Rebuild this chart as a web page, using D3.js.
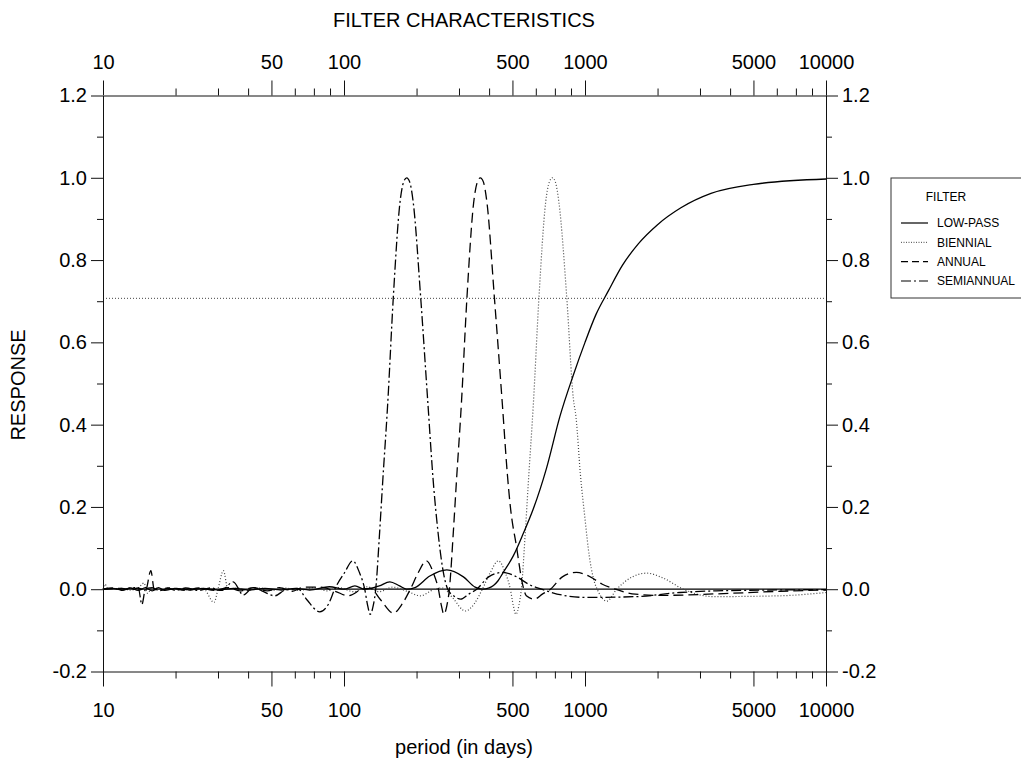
<!DOCTYPE html>
<html><head><meta charset="utf-8">
<script src="https://cdn.jsdelivr.net/npm/d3@7"></script>
<style>
html,body{margin:0;padding:0;background:#fff;}
svg{display:block;font-family:"Liberation Sans",Arial,Helvetica,sans-serif;}
</style></head>
<body>
<svg id="chart" width="1021" height="766"></svg>
<script>
// ---- data (period in days, response) ----
const xMajorTicks = [10, 50, 100, 500, 1000, 5000, 10000];
const xMinorTicks = [20, 30, 40, 62.5, 75, 87.5, 200, 300, 400, 625, 750, 875, 2000, 3000, 4000, 6250, 7500, 8750];
const yMajorTicks = [-0.2, 0.0, 0.2, 0.4, 0.6, 0.8, 1.0, 1.2];
const yMinorTicks = [-0.1, 0.1, 0.3, 0.5, 0.7, 0.9, 1.1];
const halfPower = 0.707;
const seriesNames = ["LOW-PASS", "BIENNIAL", "ANNUAL", "SEMIANNUAL"];

const lowPass = [
 [10,0],[11,0.002],[12,-0.002],[13,0.003],[14,-0.003],[15,0.004],[16,-0.004],[17,0.004],[18,-0.003],[20,0.002],
 [23,-0.002],[26,0.002],[30,-0.002],[35,0.002],[40,-0.002],[47,0.002],[55,-0.002],[63,0.002],[72,-0.002],[87,0.006],
 [100,0],[111,0.008],[122,0],[140,0.008],[155,0.018],[170,0.008],[182,0],[197,0.004],[227,0.032],[267,0.047],
 [313,0.03],[350,0.005],[375,0],[400,0.003],[417,0.009],[435,0.02],[458,0.041],[504,0.081],[555,0.136],[611,0.196],
 [693,0.295],[787,0.42],[894,0.52],[1000,0.600],[1111,0.668],[1250,0.725],[1429,0.787],[1667,0.840],[2000,0.886],
 [2500,0.927],[3333,0.962],[5000,0.984],[10000,0.997]
];

const biennial = [
 [10,0],[10.2,0.012],[10.5,0],[12,0.002],[13,-0.002],[14,0.003],[14.8,0.015],[15.3,-0.01],[16,0.004],[18,-0.002],
 [20,0.002],[23,-0.002],[26,0.002],[28.9,-0.032],[30,0],[31.6,0.045],[33,0],[36,0.003],[40,-0.003],[45,0.003],
 [50,-0.003],[57,0.003],[65,-0.003],[75,0.004],[85,-0.004],[95,0.004],[110,-0.006],[125,0.006],[140,-0.006],
 [158.8,0.005],[183,-0.005],[207.4,-0.016],[237.2,0],[256,0.003],[281.5,-0.02],[318.8,-0.053],[347.4,-0.035],
 [375,0],[404.1,0.04],[437,0.069],[467,0.04],[490.1,0],[504.3,-0.04],[516.6,-0.061],[531.5,-0.04],[544.4,0],
 [565.5,0.14],[582,0.26],[610.5,0.45],[644.2,0.71],[686.6,0.94],[711.3,0.99],[732,1.0],[753.2,0.99],[779.6,0.94],
 [839.9,0.71],[894.5,0.463],[918,0.418],[956.7,0.28],[1000.6,0.17],[1042,0.08],[1083,0.027],[1136,-0.006],
 [1231,-0.029],[1354,0],[1572,0.03],[1804,0.039],[2094,0.028],[2560,0],[3404,-0.018],[6442,-0.016],[10000,-0.008]
];

const annual = [
 [10,0],[12,0.002],[13,-0.002],[14,0.003],[15,-0.004],[15.8,0.045],[16.3,0],[17,-0.004],[19,0.003],[22,-0.003],
 [25,0.003],[29,-0.003],[33,0.004],[37,-0.004],[42,0.004],[48,-0.004],[54,0.004],[61,-0.005],[68,0.005],
 [79.9,0.005],[92,-0.005],[104.3,-0.016],[119.2,0],[128.7,0.002],[141.5,-0.025],[160.3,-0.058],[174.7,-0.035],
 [188.5,0],[203.2,0.04],[219.7,0.069],[234.8,0.04],[246.4,0],[253.6,-0.04],[259.7,-0.061],[267.2,-0.04],[273.7,0],
 [284.3,0.14],[292.6,0.26],[306.9,0.45],[323.8,0.71],[345.2,0.94],[357.6,0.99],[368,1.0],[378.7,0.99],[391.9,0.94],
 [420.6,0.71],[454,0.45],[476.2,0.28],[490.2,0.2],[519.2,0.105],[552.7,0.008],[571,-0.016],[616.4,-0.024],
 [665.3,-0.012],[718.3,0],[805.6,0.03],[920.7,0.041],[1052,0.03],[1180,0.012],[1337,0],[1618,-0.012],
 [2053,-0.015],[3997,-0.01],[6442,-0.005],[10000,-0.002]
];

const semiannual = [
 [10,0],[11,0.003],[12,-0.003],[13,0.003],[14,0.004],[14.5,-0.037],[15,0],[16,0.004],[17,-0.003],[18.5,0.003],
 [20,-0.003],[22,0.003],[25,-0.003],[28,0.003],[31,-0.003],[34.7,0.018],[38.2,-0.014],[42,0.004],[45.6,-0.004],
 [51.6,-0.016],[57,-0.002],[61,0],[64,0.002],[70,-0.025],[79.3,-0.055],[86.4,-0.035],[91.5,0],[100.5,0.04],
 [108.7,0.069],[116,0.04],[121.9,0],[125.4,-0.04],[128.4,-0.061],[132.2,-0.04],[135.4,0],[140.6,0.14],[144.7,0.26],
 [151.8,0.45],[160.2,0.71],[170.7,0.94],[176.8,0.99],[182,1.0],[187.3,0.99],[193.8,0.94],[208,0.71],[222.4,0.46],
 [235.5,0.25],[242.4,0.17],[256.8,0.05],[269.4,0],[288,-0.018],[304.9,-0.024],[329,-0.012],[355.3,0],[398.4,0.03],
 [455.4,0.041],[520.5,0.03],[583.8,0.012],[661,0],[800,-0.014],[1015,-0.02],[1638,-0.018],[2477,-0.008],
 [3500,-0.004],[10000,-0.001]
];

// ---- layout ----
const svg = d3.select("#chart");
const x = d3.scaleLog().domain([10, 10000]).range([103, 826]);
const y = d3.scaleLinear().domain([-0.2, 1.2]).range([671.5, 95.5]);
const FONT = 20;
const axisColor = "#111";

// reference lines
const line = d3.line().x(d => x(d[0])).y(d => y(d[1])).curve(d3.curveMonotoneX);
const straight = d3.line().x(d => x(d[0])).y(d => y(d[1]));
svg.append("path").datum([[10,0],[10000,0]]).attr("d", straight)
  .attr("stroke", "#000").attr("stroke-width", 1.2).attr("fill", "none");
svg.append("path").datum([[10,halfPower],[10000,halfPower]]).attr("d", straight)
  .attr("stroke", "#444").attr("stroke-width", 1).attr("stroke-dasharray", "1,2").attr("fill", "none");

const styles = {
  "LOW-PASS":   {data: lowPass,    dash: null,        color: "#000", w: 1.3},
  "BIENNIAL":   {data: biennial,   dash: "1,2",       color: "#444", w: 1.2},
  "ANNUAL":     {data: annual,     dash: "10,5",      color: "#000", w: 1.3},
  "SEMIANNUAL": {data: semiannual, dash: "10,3,2,3",  color: "#000", w: 1.3}
};

["BIENNIAL","SEMIANNUAL","ANNUAL","LOW-PASS"].forEach(name => {
  const s = styles[name];
  const p = svg.append("path").datum(s.data).attr("d", line)
    .attr("fill", "none").attr("stroke", s.color).attr("stroke-width", s.w);
  if (s.dash) p.attr("stroke-dasharray", s.dash);
});

// ---- axes ----
function styleAxis(g, showDomain) {
  g.selectAll("line").attr("stroke", axisColor).attr("stroke-width", 1);
  g.select(".domain").attr("stroke", showDomain ? axisColor : "none").attr("stroke-width", 1);
  g.selectAll("text").attr("fill", "#000");
  g.attr("font-size", FONT).attr("font-family", "Liberation Sans, Arial, sans-serif");
}
const fx = d3.format("d");
const fy = d => (Math.abs(d) < 1e-9 ? 0 : d).toFixed(1);

// bottom
svg.append("g").attr("transform", "translate(0,671.5)")
  .call(d3.axisBottom(x).tickValues(xMinorTicks).tickSize(7).tickSizeOuter(0).tickFormat(""))
  .call(g => styleAxis(g, false));
svg.append("g").attr("transform", "translate(0,671.5)")
  .call(d3.axisBottom(x).tickValues(xMajorTicks).tickSize(15).tickSizeOuter(0).tickPadding(16).tickFormat(fx))
  .call(g => styleAxis(g, true));
// top
svg.append("g").attr("transform", "translate(0,95.5)")
  .call(d3.axisTop(x).tickValues(xMinorTicks).tickSize(7).tickSizeOuter(0).tickFormat(""))
  .call(g => styleAxis(g, false));
svg.append("g").attr("transform", "translate(0,95.5)")
  .call(d3.axisTop(x).tickValues(xMajorTicks).tickSize(15).tickSizeOuter(0).tickPadding(12).tickFormat(fx))
  .call(g => styleAxis(g, true));
// left
svg.append("g").attr("transform", "translate(103,0)")
  .call(d3.axisLeft(y).tickValues(yMinorTicks).tickSize(6).tickSizeOuter(0).tickFormat(""))
  .call(g => styleAxis(g, false));
svg.append("g").attr("transform", "translate(103,0)")
  .call(d3.axisLeft(y).tickValues(yMajorTicks).tickSize(12).tickSizeOuter(0).tickPadding(4).tickFormat(fy))
  .call(g => styleAxis(g, true));
// right
svg.append("g").attr("transform", "translate(826,0)")
  .call(d3.axisRight(y).tickValues(yMinorTicks).tickSize(6).tickSizeOuter(0).tickFormat(""))
  .call(g => styleAxis(g, false));
svg.append("g").attr("transform", "translate(826,0)")
  .call(d3.axisRight(y).tickValues(yMajorTicks).tickSize(12).tickSizeOuter(0).tickPadding(4).tickFormat(fy))
  .call(g => styleAxis(g, true));

// ---- titles ----
svg.append("text").attr("x", 464).attr("y", 27).attr("text-anchor", "middle")
  .attr("font-size", FONT).text("FILTER CHARACTERISTICS");
svg.append("text").attr("x", 464).attr("y", 754).attr("text-anchor", "middle")
  .attr("font-size", FONT).text("period (in days)");
svg.append("text").attr("transform", "translate(25,385) rotate(-90)").attr("text-anchor", "middle")
  .attr("font-size", FONT).text("RESPONSE");

// ---- legend ----
const lg = svg.append("g");
lg.append("rect").attr("x", 891).attr("y", 178).attr("width", 140).attr("height", 120)
  .attr("fill", "none").attr("stroke", "#333").attr("stroke-width", 1);
lg.append("text").attr("x", 946).attr("y", 197).attr("dy", "0.35em").attr("text-anchor", "middle")
  .attr("font-size", 12).text("FILTER");
const legY = d3.scalePoint().domain(seriesNames).range([223, 281]);
seriesNames.forEach(name => {
  const s = styles[name];
  const l = lg.append("line").attr("x1", 901).attr("x2", 928).attr("y1", legY(name)).attr("y2", legY(name))
    .attr("stroke", s.color).attr("stroke-width", name === "BIENNIAL" ? 1 : 1.2);
  if (s.dash) l.attr("stroke-dasharray", name === "ANNUAL" ? "7,4" : (name === "SEMIANNUAL" ? "10,3,2,3" : "1,1.5"));
  lg.append("text").attr("x", 937).attr("y", legY(name)).attr("dy", "0.35em")
    .attr("font-size", 12).text(name);
});
</script>
</body></html>
